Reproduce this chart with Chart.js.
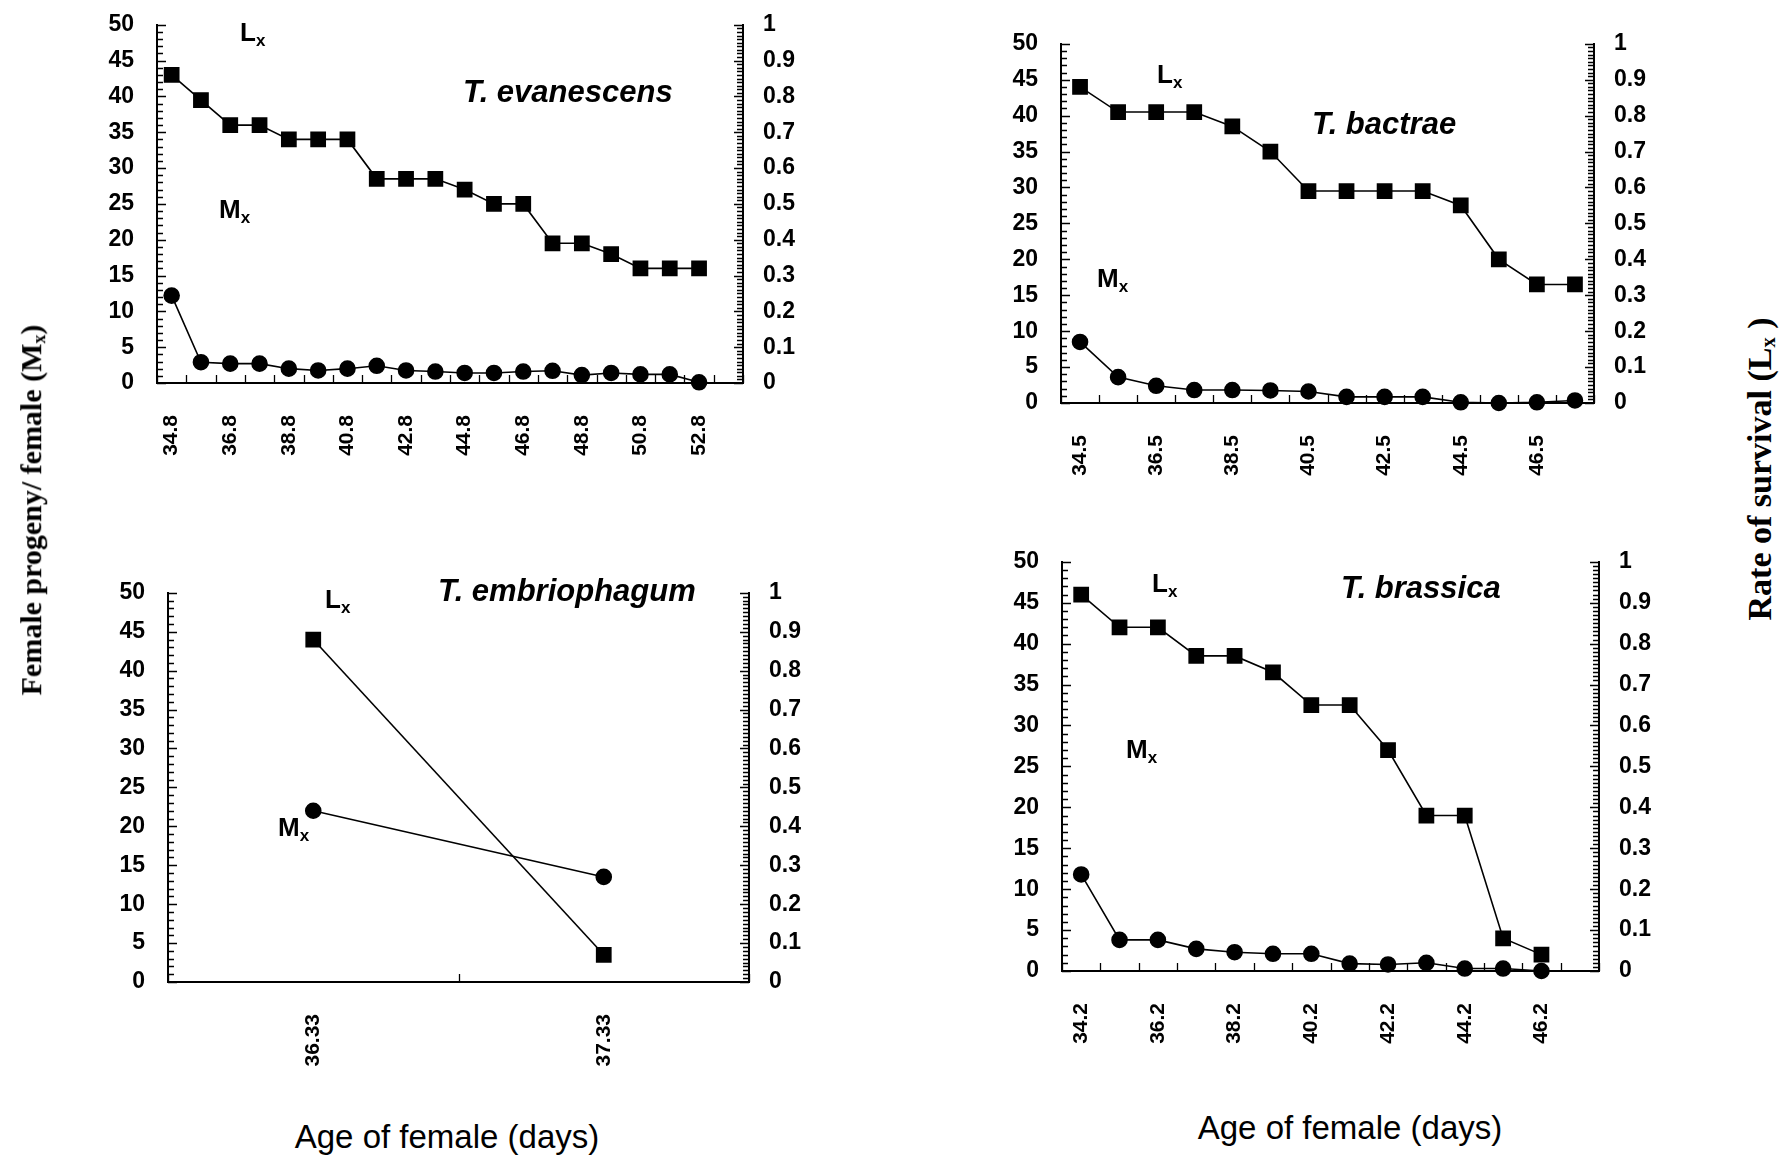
<!DOCTYPE html>
<html>
<head>
<meta charset="utf-8">
<script src="https://cdn.jsdelivr.net/npm/chart.js@4.4.1/dist/chart.umd.min.js"></script>
<style>
  body { margin: 0; background: #fff; }
  #page { position: relative; width: 1792px; height: 1158px; overflow: hidden; font-family: "Liberation Sans", Arial, sans-serif; color: #000; }
  canvas { position: absolute; }
  .lbl { position: absolute; white-space: nowrap; line-height: 1; }
  .sp { font-style: italic; font-weight: bold; font-size: 31px; }
  .lm { font-size: 26px; font-weight: bold; }
  .lm sub { font-size: 17px; vertical-align: -5px; }
  .age { font-size: 33px; transform: translateX(-50%); }
  .ttl { font-family: "Liberation Serif", "Times New Roman", serif; font-weight: bold; transform: translate(-50%, -50%) rotate(-90deg); }
  .ttl sub { font-size: 0.6em; vertical-align: -0.2em; }
</style>
</head>
<body>
<div id="page">
  <canvas id="c1"></canvas>
  <canvas id="c2"></canvas>
  <canvas id="c3"></canvas>
  <canvas id="c4"></canvas>

  <div class="lbl sp" style="left:463px; top:76px;">T. evanescens</div>
  <div class="lbl lm" style="left:240px; top:19px;">L<sub>x</sub></div>
  <div class="lbl lm" style="left:219px; top:196px;">M<sub>x</sub></div>

  <div class="lbl sp" style="left:1312px; top:108px;">T. bactrae</div>
  <div class="lbl lm" style="left:1157px; top:61px;">L<sub>x</sub></div>
  <div class="lbl lm" style="left:1097px; top:265px;">M<sub>x</sub></div>

  <div class="lbl sp" style="left:438px; top:575px;">T. embriophagum</div>
  <div class="lbl lm" style="left:325px; top:586px;">L<sub>x</sub></div>
  <div class="lbl lm" style="left:278px; top:814px;">M<sub>x</sub></div>

  <div class="lbl sp" style="left:1341px; top:572px;">T. brassica</div>
  <div class="lbl lm" style="left:1152px; top:570px;">L<sub>x</sub></div>
  <div class="lbl lm" style="left:1126px; top:736px;">M<sub>x</sub></div>

  <div class="lbl age" style="left:447px; top:1120px;">Age of female (days)</div>
  <div class="lbl age" style="left:1350px; top:1111px;">Age of female (days)</div>

  <div class="lbl ttl" style="left:32px; top:510px; font-size:30px;">Female progeny/ female (M<sub>x</sub>)</div>
  <div class="lbl ttl" style="left:1761px; top:469px; font-size:34px;">Rate of survival (L<sub>x</sub> )</div>
</div>

<script>
// T. evanescens (last category has no data)
const evanAges = ['34.8', '35.8', '36.8', '37.8', '38.8', '39.8', '40.8', '41.8', '42.8', '43.8',
                  '44.8', '45.8', '46.8', '47.8', '48.8', '49.8', '50.8', '51.8', '52.8', '53.8'];
const evanLx = [0.86, 0.79, 0.72, 0.72, 0.68, 0.68, 0.68, 0.57, 0.57, 0.57,
                0.54, 0.50, 0.50, 0.39, 0.39, 0.36, 0.32, 0.32, 0.32];
const evanMx = [12.2, 2.9, 2.7, 2.7, 2.0, 1.75, 2.0, 2.4, 1.75, 1.6,
                1.4, 1.4, 1.6, 1.7, 1.1, 1.4, 1.2, 1.2, 0.1];

// T. bactrae
const bactAges = ['34.5', '35.5', '36.5', '37.5', '38.5', '39.5', '40.5',
                  '41.5', '42.5', '43.5', '44.5', '45.5', '46.5', '47.5'];
const bactLx = [0.88, 0.81, 0.81, 0.81, 0.77, 0.70, 0.59, 0.59, 0.59, 0.59, 0.55, 0.40, 0.33, 0.33];
const bactMx = [8.5, 3.6, 2.4, 1.8, 1.8, 1.75, 1.6, 0.85, 0.85, 0.85, 0.1, 0, 0.1, 0.35];

// T. embriophagum
const embrAges = ['36.33', '37.33'];
const embrLx = [0.88, 0.07];
const embrMx = [22.0, 13.5];

// T. brassica (last category has no data)
const brasAges = ['34.2', '35.2', '36.2', '37.2', '38.2', '39.2', '40.2',
                  '41.2', '42.2', '43.2', '44.2', '45.2', '46.2', '47.2'];
const brasLx = [0.92, 0.84, 0.84, 0.77, 0.77, 0.73, 0.65, 0.65, 0.54, 0.38, 0.38, 0.08, 0.04];
const brasMx = [11.8, 3.8, 3.8, 2.7, 2.3, 2.1, 2.1, 0.9, 0.8, 1.0, 0.3, 0.3, 0];

// tick marks pointing into the plot, like the original
const inwardTicks = {
    id: 'inwardTicks',
    beforeDatasetsDraw(chart) {
        const ctx = chart.ctx;
        const a = chart.chartArea;
        const y = chart.scales.y, y1 = chart.scales.y1, x = chart.scales.x;
        ctx.save();
        ctx.strokeStyle = '#000';
        ctx.lineWidth = 1.3;
        ctx.beginPath();
        for (let v = 0; v <= 50; v++) {
            const py = Math.round(y.getPixelForValue(v)) + 0.5;
            ctx.moveTo(a.left, py);
            ctx.lineTo(a.left + (v % 5 === 0 ? 9 : 6), py);
        }
        for (let i = 0; i <= 100; i++) {
            const py = Math.round(y1.getPixelForValue(i / 100)) + 0.5;
            ctx.moveTo(a.right, py);
            ctx.lineTo(a.right - (i % 10 === 0 ? 9 : 6), py);
        }
        const n = x.getLabels().length;
        for (let i = 0; i <= n; i++) {
            const px = Math.round(x.getPixelForValue(i - 0.5)) + 0.5;
            ctx.moveTo(px, a.bottom);
            ctx.lineTo(px, a.bottom - 8);
        }
        ctx.stroke();
        ctx.restore();
    }
};

function drawPanel(id, box, ages, lx, mx, every) {
    const padL = 130, padR = 100, padT = 30, padB = 95;
    const canvas = document.getElementById(id);
    canvas.width = box.r - box.l + padL + padR;
    canvas.height = box.b - box.t + padT + padB;
    canvas.style.left = (box.l - padL) + 'px';
    canvas.style.top = (box.t - padT) + 'px';

    const tickFont = { family: '"Liberation Sans", Arial, sans-serif', size: 23, weight: 'bold' };

    new Chart(canvas, {
        type: 'line',
        data: {
            labels: ages,
            datasets: [{
                label: 'Lx',
                data: lx,
                yAxisID: 'y1',
                borderColor: '#000',
                backgroundColor: '#000',
                borderWidth: 1.6,
                pointStyle: 'rect',
                pointRadius: 10,
                tension: 0,
                clip: false
            }, {
                label: 'Mx',
                data: mx,
                yAxisID: 'y',
                borderColor: '#000',
                backgroundColor: '#000',
                borderWidth: 1.6,
                pointStyle: 'circle',
                pointRadius: 7.5,
                tension: 0,
                clip: false
            }]
        },
        options: {
            responsive: false,
            animation: false,
            events: [],
            layout: { padding: { top: padT, left: 0, right: 0, bottom: 0 } },
            plugins: { legend: { display: false }, tooltip: { enabled: false } },
            scales: {
                x: {
                    type: 'category',
                    offset: true,
                    grid: { display: false, drawTicks: false },
                    border: { color: '#000', width: 2 },
                    ticks: {
                        autoSkip: false,
                        minRotation: 90,
                        maxRotation: 90,
                        padding: 32,
                        color: '#000',
                        font: { family: tickFont.family, size: 21, weight: 'bold' },
                        callback: function(value, index) {
                            return index % every === 0 ? this.getLabelForValue(value) : '';
                        }
                    },
                    afterFit: function(s) { s.height = padB; }
                },
                y: {
                    position: 'left',
                    min: 0,
                    max: 50,
                    grid: { display: false, drawTicks: false },
                    border: { color: '#000', width: 2 },
                    ticks: { stepSize: 5, padding: 23, color: '#000', font: tickFont },
                    afterFit: function(s) { s.width = padL; }
                },
                y1: {
                    position: 'right',
                    min: 0,
                    max: 1,
                    grid: { display: false, drawTicks: false },
                    border: { color: '#000', width: 2 },
                    ticks: {
                        stepSize: 0.1,
                        padding: 20,
                        color: '#000',
                        font: tickFont,
                        callback: function(v) { return String(Math.round(v * 10) / 10); }
                    },
                    afterFit: function(s) { s.width = padR; }
                }
            }
        },
        plugins: [inwardTicks]
    });
}

drawPanel('c1', { l: 157, r: 743, t: 18, b: 383 }, evanAges, evanLx, evanMx, 2);
drawPanel('c2', { l: 1061, r: 1594, t: 37, b: 403 }, bactAges, bactLx, bactMx, 2);
drawPanel('c3', { l: 168, r: 749, t: 586, b: 982 }, embrAges, embrLx, embrMx, 1);
drawPanel('c4', { l: 1062, r: 1599, t: 555, b: 971 }, brasAges, brasLx, brasMx, 2);
</script>
</body>
</html>
